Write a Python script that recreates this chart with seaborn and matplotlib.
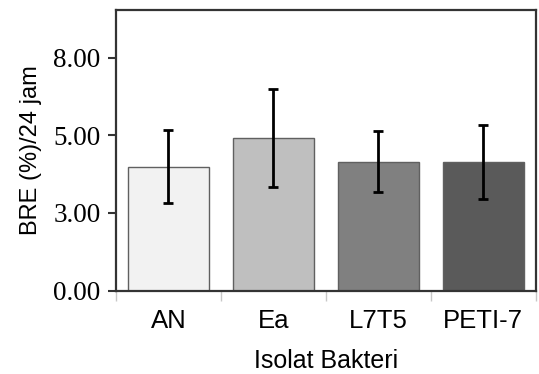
import numpy as np
import pandas as pd
import matplotlib
matplotlib.use('Agg')
import matplotlib.pyplot as plt
import seaborn as sns

# values
isolat = ['AN', 'Ea', 'L7T5', 'PETI-7']
bre = [4.26, 5.25, 4.43, 4.40]
sd = [1.24, 1.68, 1.05, 1.27]
warna = ['#f2f2f2', '#bfbfbf', '#808080', '#5a5a5a']
ytick_pos = [0, 8/3, 16/3, 8]
ytick_lab = ['0.00', '3.00', '5.00', '8.00']

sns.set_style('white')
plt.rcParams.update({'text.color': 'black', 'axes.labelcolor': 'black',
                     'xtick.color': 'black', 'ytick.color': 'black'})
df = pd.DataFrame({'isolat': isolat, 'bre': bre})

fig = plt.figure(figsize=(5.39, 3.74), dpi=100)
ax = fig.add_axes([0.215, 0.223, 0.779, 0.750])
sns.barplot(data=df, x='isolat', y='bre', hue='isolat', palette=dict(zip(isolat, warna)),
            width=0.77, edgecolor='#606060', linewidth=1.0, legend=False, errorbar=None, ax=ax)
ax.errorbar(np.arange(len(isolat)), bre, yerr=sd, fmt='none', ecolor='black',
            elinewidth=2.0, capsize=3.5, capthick=2.0)

ax.set_xlim(-0.5, len(isolat) - 0.5)
ax.set_ylim(0, 9.63)
ax.set_yticks(ytick_pos)
ax.set_yticklabels(ytick_lab, family='Liberation Serif', fontsize=19.5)
ax.set_xticks(range(len(isolat)))
ax.set_xticklabels(isolat, family='Liberation Sans', fontsize=18.5)
ax.set_xticks(np.arange(-0.5, len(isolat)), minor=True)
ax.tick_params(axis='x', which='both', bottom=True)
ax.tick_params(axis='x', which='major', length=0, pad=13)
ax.tick_params(axis='x', which='minor', length=7, width=1.0, color='#c8c8c8', direction='out')
ax.tick_params(axis='y', left=True, length=6, width=1.5, color='#333333', direction='out', pad=5)
for s in ax.spines.values():
    s.set_visible(True)
    s.set_color('#333333')
    s.set_linewidth(1.6)
ax.set_xlabel('Isolat Bakteri', family='Liberation Sans', fontsize=18, labelpad=12)
ax.set_ylabel('BRE (%)/24 jam', family='Liberation Sans', fontsize=17, labelpad=8)

fig.savefig('out.png', dpi=100)
